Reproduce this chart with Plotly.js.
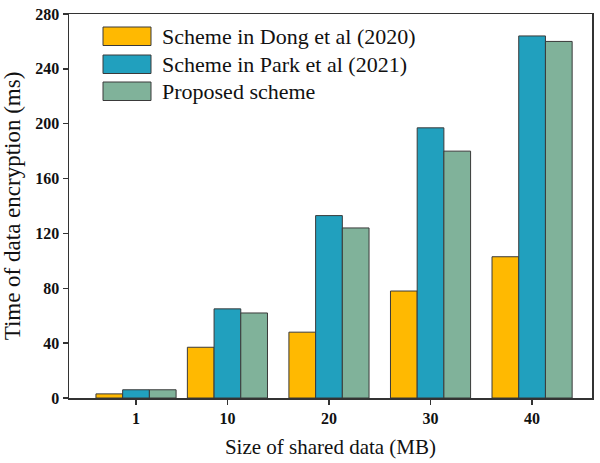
<!DOCTYPE html>
<html><head><meta charset="utf-8">
<script src="https://cdn.plot.ly/plotly-3.0.1.min.js"></script>
<style>html,body{margin:0;padding:0;background:#fff}#c{width:600px;height:463px}</style>
</head><body><div id="c"></div>
<script>
var sizes = [1, 10, 20, 30, 40];
var tickLabels = ['1', '10', '20', '30', '40'];
var seriesNames = ['Scheme in Dong et al (2020)', 'Scheme in Park et al (2021)', 'Proposed scheme'];
var dong = [3, 37, 48, 78, 103];
var park = [6, 65, 133, 197, 264];
var proposed = [6, 62, 124, 180, 260];
var colors = ['#FFB901', '#21A0BE', '#80B29A'];
var series = [dong, park, proposed];

var W = 2.63;
var font = 'Liberation Serif, Times New Roman, serif';
var traces = series.map(function(vals, i){
  return {type:'bar', x:sizes, y:vals, name:seriesNames[i], width:W, offset:-1.5*W + i*W,
    marker:{color:colors[i], line:{color:'#3a3a3a', width:1}}, showlegend:false};
});

// legend drawn as paper-space swatches (pixel positions converted to paper fractions)
var plotL = 69, plotW = 523, plotT = 14, plotH = 384;
function px(x){ return (x - plotL) / plotW; }
function py(y){ return 1 - (y - plotT) / plotH; }
var boxTop = [27, 55, 82];
var shapes = [], annotations = [];
seriesNames.forEach(function(n, i){
  shapes.push({type:'rect', xref:'paper', yref:'paper', x0:px(103), x1:px(151), y0:py(boxTop[i]+18.5), y1:py(boxTop[i]),
    fillcolor:colors[i], line:{color:'#3a3a3a', width:1}});
  annotations.push({xref:'paper', yref:'paper', x:px(160), y:py(boxTop[i]+9.5), xanchor:'left', yanchor:'middle',
    text:n, showarrow:false, font:{family:font, size:22, color:'#111'}});
});

var layout = {
  width:600, height:463, margin:{l:plotL, r:600-plotL-plotW, t:plotT, b:463-plotT-plotH},
  paper_bgcolor:'#fff', plot_bgcolor:'#fff',
  xaxis:{range:[-5.6, 45.9], tickvals:sizes, ticktext:tickLabels, ticks:'outside', ticklen:5, tickwidth:1.5, tickcolor:'#333',
    showline:true, linecolor:'#333', linewidth:1.5, mirror:true, showgrid:false, zeroline:false,
    tickfont:{family:font, size:16, weight:'bold', color:'#111'},
    title:{text:'Size of shared data (MB)', font:{family:font, size:21, color:'#111'}, standoff:13}},
  yaxis:{range:[0, 280], tickvals:[0,40,80,120,160,200,240,280], ticks:'outside', ticklen:5, tickwidth:1.5, tickcolor:'#333',
    showline:true, linecolor:'#333', linewidth:1.5, mirror:true, showgrid:false, zeroline:false,
    tickfont:{family:font, size:16, weight:'bold', color:'#111'},
    title:{text:'Time of data encryption (ms)', font:{family:font, size:23, color:'#111'}, standoff:8}},
  shapes:shapes, annotations:annotations, showlegend:false
};
Plotly.newPlot('c', traces, layout, {displayModeBar:false, staticPlot:true});
</script></body></html>
